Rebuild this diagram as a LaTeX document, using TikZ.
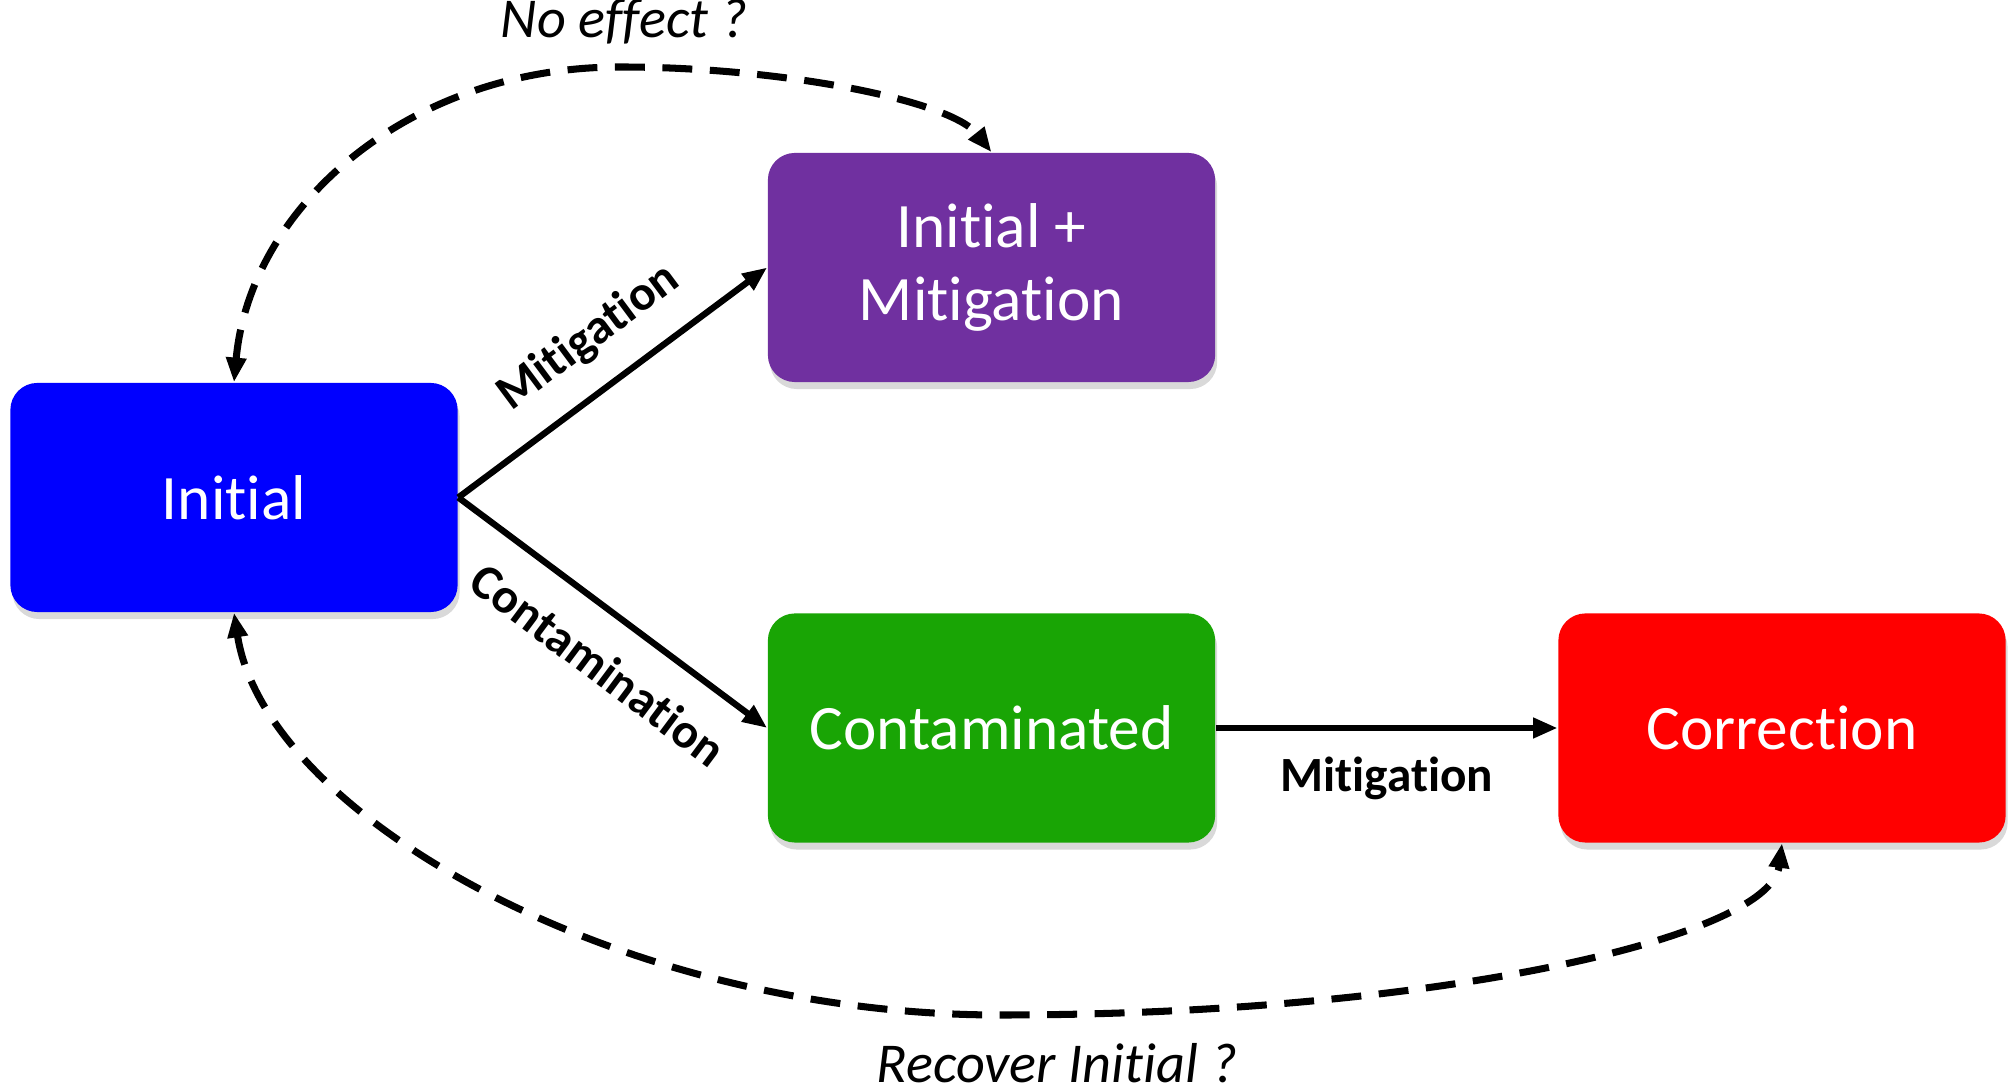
\documentclass[tikz,border=0pt]{standalone}
\usepackage{fontspec}
\setmainfont[Ligatures=NoCommon]{Carlito}
\usetikzlibrary{arrows.meta,shadows}
\definecolor{initblue}{RGB}{0,0,255}
\definecolor{mitpurple}{RGB}{112,48,160}
\definecolor{contgreen}{RGB}{25,165,5}
\definecolor{corrred}{RGB}{255,0,0}

\begin{document}
\begin{tikzpicture}[x=0.01cm,y=0.01cm,
    box/.style={rounded corners=0.27cm, minimum width=4.47cm, minimum height=2.29cm,
        text=white, align=center, font=\fontsize{18}{20.7}\selectfont,
        drop shadow={shadow xshift=0.02cm, shadow yshift=-0.07cm, opacity=0.3, fill=gray}},
    edge/.style={-{Triangle[length=7pt,width=5.5pt]}, line width=1.8pt},
    maybe/.style={{Triangle[length=7pt,width=5.5pt]}-{Triangle[length=7pt,width=5.5pt]},
        line width=2pt, dash pattern=on 8.5pt off 5pt},
    lbl/.style={font=\bfseries\fontsize{14}{16}\selectfont},
    qlbl/.style={font=\itshape\fontsize{16}{18}\selectfont}]
        \useasboundingbox (0,0) rectangle (2016,1085);

        % states
        \node[box, fill=initblue] (init) at (234,587.5) {Initial};
        \node[box, fill=mitpurple] (imit) at (991.5,817.5) {Initial +\\Mitigation};
        \node[box, fill=contgreen] (cont) at (991.5,357) {Contaminated};
        \node[box, fill=corrred] (corr) at (1782,357) {Correction};

        % transitions
        \draw[edge] (init.east) -- node[lbl, pos=0.52, sloped, above=4pt] (mitup) {Mitigation} (imit.west);
        \draw[edge] (init.east) -- node[lbl, pos=0.55, sloped, below=5pt] (contam) {Contamination} (cont.west);
        \draw[edge] (cont.east) -- node[lbl, below=4pt] (mitdown) {Mitigation} (corr.west);

        % open questions
        \coordinate (high) at (620,1018);
        \draw[maybe] (init.north) .. controls (250,877) and (407,1018) .. (high)
            .. controls (780,1018) and (950,985) .. (imit.north);
        \node[qlbl] (noeff) at (624,1063) {No effect ?};
        \coordinate (low) at (1000,70);
        \draw[maybe] (init.south) .. controls (265,271) and (617,70) .. (low)
            .. controls (1432,70) and (1770,147) .. (corr.south);
        \node[qlbl] (recov) at (1057,22) {Recover Initial ?};
    \end{tikzpicture}
\end{document}
